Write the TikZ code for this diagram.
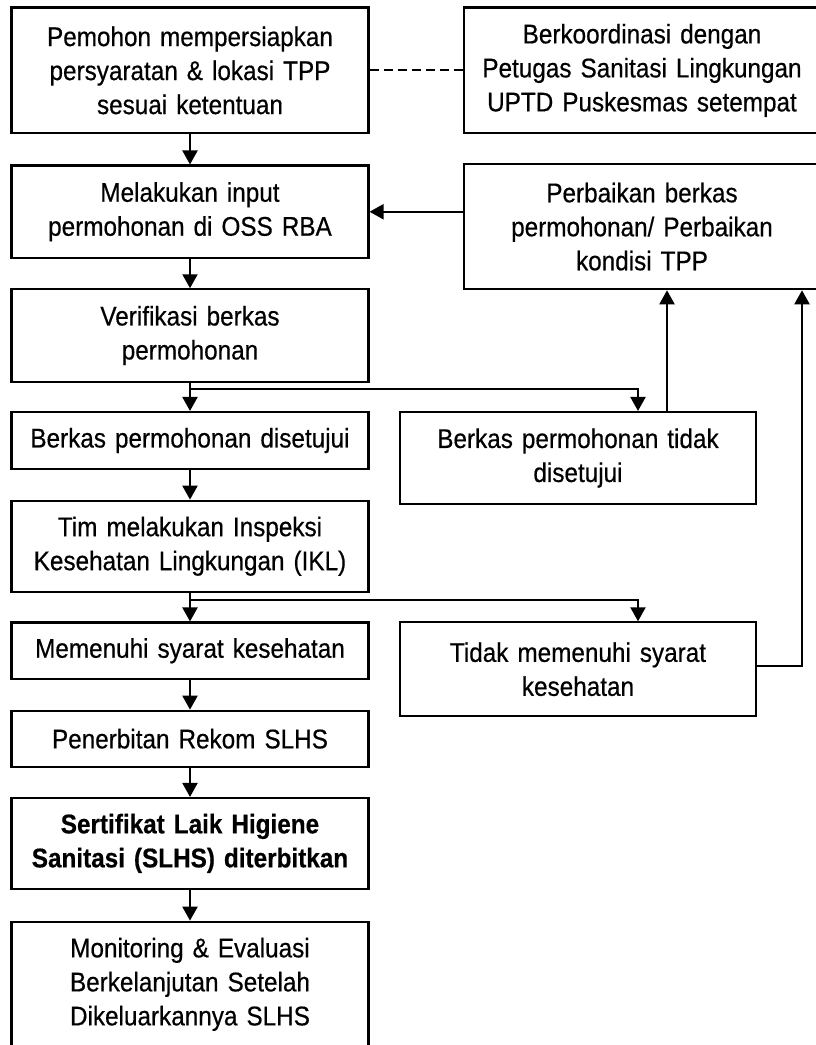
\documentclass[tikz,border=0pt]{standalone}
\usepackage{fontspec}
\setmainfont{Liberation Sans}[FakeStretch=0.9, WordSpace=0.7, FakeBold=0.5]
\usetikzlibrary{arrows.meta}
\begin{document}
\begin{tikzpicture}[x=1pt,y=-1pt,
  box/.style={draw, line width=2.1pt, inner sep=0pt, align=center,
    font=\fontsize{27}{34}\selectfont},
  lbox/.style={box, minimum width=357pt, text width=350pt},
  rbox/.style={box, minimum width=356pt, text width=350pt},
  arr/.style={line width=2.1pt, -{Triangle[length=14pt,width=15pt]}},
  conn/.style={line width=2.1pt}]
\useasboundingbox (0,0) rectangle (816,1045);
\clip (0,0) rectangle (816,1045);
% left column
\node[lbox, minimum height=125.8pt] (b1) at (190,70.4) {Pemohon mempersiapkan\\persyaratan \& lokasi TPP\\sesuai ketentuan};
\node[lbox, minimum height=92.5pt] (b2) at (190,211.75) {Melakukan input\\permohonan di OSS RBA};
\node[lbox, minimum height=92.4pt] (b3) at (190,335.5) {Verifikasi berkas\\permohonan};
\node[lbox, minimum height=57pt] (b4) at (190,440.5) {Berkas permohonan disetujui};
\node[lbox, minimum height=91pt] (b5) at (190,546.2) {Tim melakukan Inspeksi\\Kesehatan Lingkungan (IKL)};
\node[lbox, minimum height=56.5pt] (b6) at (190,650.75) {Memenuhi syarat kesehatan};
\node[lbox, minimum height=56pt] (b7) at (190,738.7) {Penerbitan Rekom SLHS};
\node[lbox, minimum height=90.7pt, font=\fontsize{27}{34}\selectfont\bfseries] (b8) at (190,843.35) {Sertifikat Laik Higiene\\Sanitasi (SLHS) diterbitkan};
\node[lbox, minimum height=125.3pt] (b9) at (190,984.35) {Monitoring \& Evaluasi\\Berkelanjutan Setelah\\Dikeluarkannya SLHS};
% right column
\node[rbox, minimum height=125.8pt] (r1) at (642,70.4) {Berkoordinasi dengan\\Petugas Sanitasi Lingkungan\\UPTD Puskesmas setempat};
\node[rbox, minimum height=125.3pt] (r2) at (642,226.6) {Perbaikan berkas\\permohonan/ Perbaikan\\kondisi TPP};
\node[rbox, minimum height=92pt] (r4) at (578,458) {Berkas permohonan tidak\\disetujui};
\node[rbox, minimum height=93.7pt] (r6) at (578,669.2) {Tidak memenuhi syarat\\kesehatan};
% junction coordinates
\coordinate (j1) at (190,389);
\coordinate (j2) at (190,600);
\coordinate (c1) at (802,666);
% connectors
\draw[line width=2.1pt, dash pattern=on 9pt off 5pt] (b1.east) -- (r1.west);
\draw[arr] (b1) -- (b2);
\draw[arr] (r2.west |- b2.east) -- (b2.east);
\draw[arr] (b2) -- (b3);
\draw[arr] (b3) -- (b4);
\draw[arr] (j1) -| ([xshift=60pt]r4.north);
\draw[arr] ([xshift=89pt]r4.north) -- ([xshift=89pt]r4.north |- r2.south);
\draw[arr] (b4) -- (b5);
\draw[arr] (b5) -- (b6);
\draw[arr] (j2) -| ([xshift=60pt]r6.north);
\draw[arr] (r6.east |- c1) -| (c1 |- r2.south);
\draw[arr] (b6) -- (b7);
\draw[arr] (b7) -- (b8);
\draw[arr] (b8) -- (b9);
\end{tikzpicture}
\end{document}
